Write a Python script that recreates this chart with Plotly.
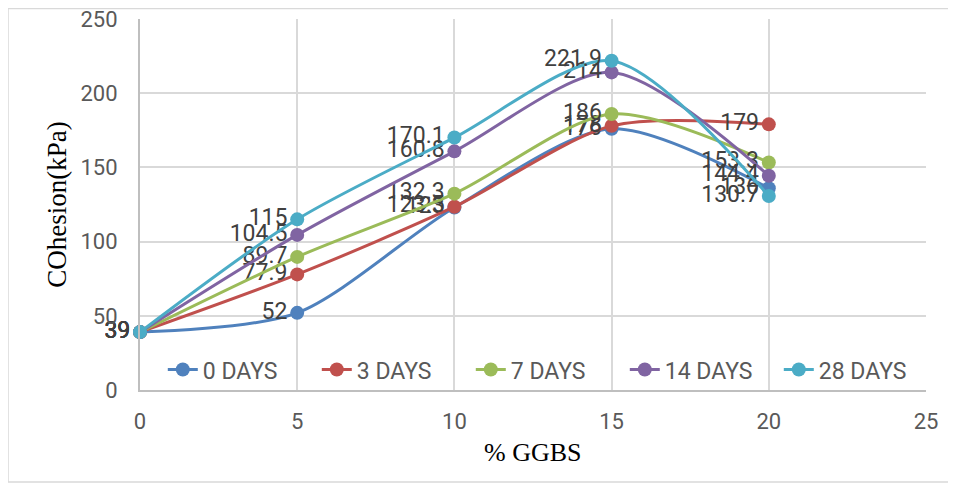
import plotly.graph_objects as go

# % GGBS content
ggbs = [0, 5, 10, 15, 20]

# cohesion (kPa) for each curing period
days_0 = [39, 52, 123, 176, 136]
days_3 = [39, 77.9, 123.5, 178, 179]
days_7 = [39, 89.7, 132.3, 186, 153.3]
days_14 = [39, 104.5, 160.8, 214, 144.4]
days_28 = [39, 115, 170.1, 221.9, 130.7]

series = [
    ("0 DAYS", days_0, "#4F81BD"),
    ("3 DAYS", days_3, "#C0504D"),
    ("7 DAYS", days_7, "#9BBB59"),
    ("14 DAYS", days_14, "#8064A2"),
    ("28 DAYS", days_28, "#4BACC6"),
]

label_font = "Liberation Sans Narrow, Roboto, sans-serif"

# the page body adds an 8px offset, so the figure is 948x478
W, H = 948, 478
L, T = 132, 11
PW, PH = 786, 371
R = W - L - PW
B = H - T - PH

fig = go.Figure()
for name, vals, color in series:
    fig.add_trace(go.Scatter(
        x=ggbs, y=vals, name=name,
        mode="lines+markers+text",
        line=dict(color=color, width=3, shape="spline", smoothing=0.8),
        marker=dict(color=color, size=14),
        text=[str(v) for v in vals],
        textposition="middle left",
        textfont=dict(family=label_font, size=23, color="#404040"),
        cliponaxis=False,
    ))

fig.update_layout(
    width=W, height=H,
    margin=dict(l=L, r=R, t=T, b=B),
    paper_bgcolor="white", plot_bgcolor="white",
    showlegend=True,
    legend=dict(
        orientation="h", x=0.029, y=0.055,
        xanchor="left", yanchor="middle",
        bgcolor="rgba(255,255,255,0)",
        font=dict(family=label_font, size=23, color="#595959"),
        entrywidth=109, entrywidthmode="pixels",
    ),
    xaxis=dict(
        range=[0, 25], dtick=5, showgrid=True, gridcolor="#D9D9D9", gridwidth=2,
        showline=True, linecolor="#BFBFBF", linewidth=2, zeroline=False,
        ticks="", ticklabelstandoff=11, automargin=False, ticklabeloverflow="allow",
        tickfont=dict(family="Roboto", size=22, color="#595959"),
    ),
    yaxis=dict(
        range=[0, 250], dtick=50, showgrid=True, gridcolor="#D9D9D9", gridwidth=2,
        showline=True, linecolor="#BFBFBF", linewidth=2, zeroline=False,
        ticks="", ticklabelstandoff=16, automargin=False, ticklabeloverflow="allow",
        tickfont=dict(family="Roboto", size=22, color="#595959"),
        title=dict(text="COhesion(kPa)", font=dict(family="Liberation Serif", size=27, color="black"), standoff=6),
    ),
    # x axis title placed as an annotation so it sits at the reference height
    annotations=[dict(
        text="% GGBS", xref="paper", yref="paper", x=0.5, y=(T + PH - 444) / PH,
        xanchor="center", yanchor="middle", showarrow=False,
        font=dict(family="Liberation Serif", size=26, color="black"),
    )],
    shapes=[dict(
        type="rect", xref="paper", yref="paper",
        x0=-L / PW, x1=(942 - L) / PW,
        y0=(PH + T - 474) / PH, y1=(PH + T - 0.5) / PH,
        line=dict(color="#D9D9D9", width=1.5), layer="below",
    )],
)

fig.write_html("out.html")
